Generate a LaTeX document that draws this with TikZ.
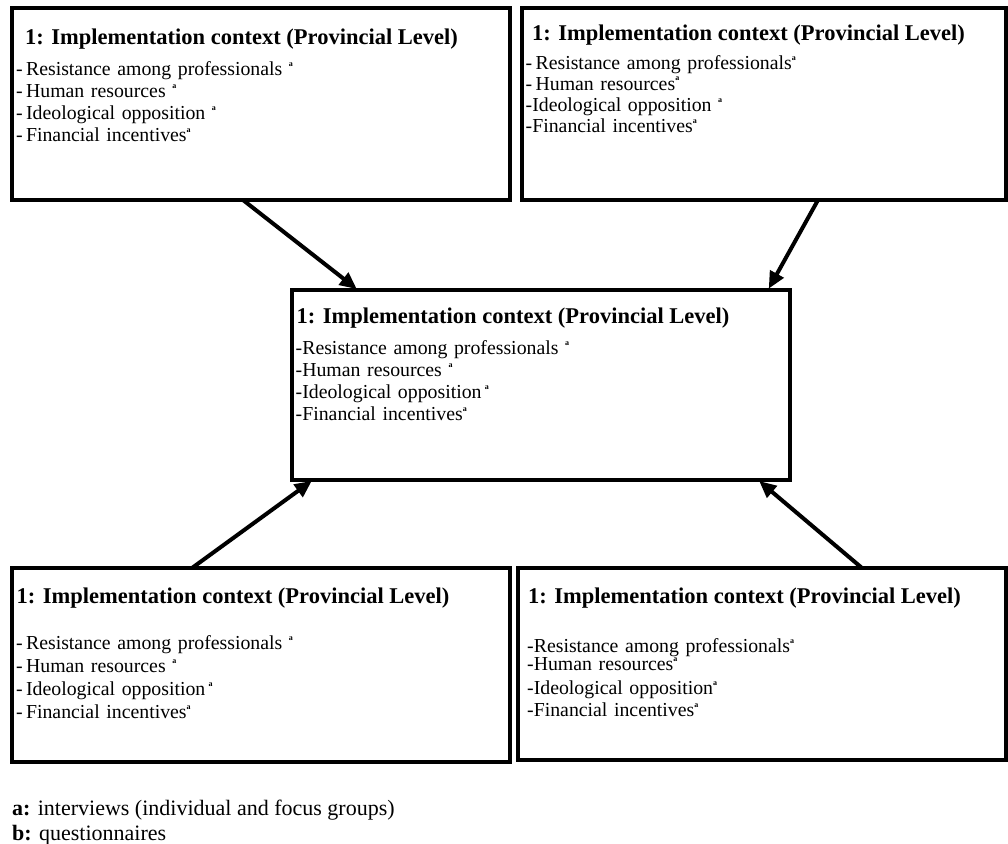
\documentclass[tikz,border=0pt]{standalone}
\usepackage{fontspec}
\setmainfont{Liberation Serif}
\usetikzlibrary{arrows.meta,calc,positioning}
\newcommand{\srcmark}{\raisebox{9pt}{\fontsize{8}{8}\selectfont\bfseries a}}
\tikzset{
context/.style={x=1pt,y=-1pt,>={Triangle[length=17pt,width=15pt]}},
panel/.style={draw,line width=4.5pt,anchor=north west,inner sep=0pt,
    outer sep=0pt,minimum width=498pt,minimum height=192pt},
head/.style={anchor=base west,inner sep=0pt,
    font=\fontsize{22.5}{27}\selectfont\bfseries},
items/.style={anchor=base west,inner sep=0pt,text width=470pt,align=left,
    font=\fontsize{19.8}{22}\selectfont},
note/.style={anchor=base west,inner sep=0pt,font=\fontsize{22}{26}\selectfont},
link/.style={->,line width=4pt,shorten >=1.5pt},
}
\begin{document}
\begin{tikzpicture}[context]
    \useasboundingbox (0,0) rectangle (1008,843);

    % the five context boxes
    \node[panel] (1) at (12,8) {};
    \node[panel,minimum width=484pt] (2) at (522,8) {};
    \node[panel,minimum height=190pt] (3) at (292,290) {};
    \node[panel,minimum height=194pt] (4) at (12,568) {};
    \node[panel,minimum width=488pt] (5) at (518,568) {};

    \node[head] (1t) at ($(1.north west)+(13,37)$) {1: Implementation context (Provincial Level)};
    \node[items] (1i) at ($(1.north west)+(4,67)$) {-\,Resistance among professionals\ \srcmark\\
        -\,Human resources\ \srcmark\\
        -\,Ideological opposition\ \srcmark\\
        -\,Financial incentives\srcmark};

    \node[head] (2t) at ($(2.north west)+(10,33)$) {1: Implementation context (Provincial Level)};
    \node[items,font=\fontsize{19.8}{21}\selectfont] (2i) at ($(2.north west)+(3.5,61)$) {-\,Resistance among professionals\srcmark\\
        -\,Human resources\srcmark\\
        -Ideological opposition\ \srcmark\\
        -Financial incentives\srcmark};

    \node[head] (3t) at ($(3.north west)+(4.5,33)$) {1: Implementation context (Provincial Level)};
    \node[items] (3i) at ($(3.north west)+(3.5,64)$) {-Resistance among professionals\ \srcmark\\
        -Human resources\ \srcmark\\
        -Ideological opposition\,\srcmark\\
        -Financial incentives\srcmark};

    \node[head] (4t) at ($(4.north west)+(4.5,35)$) {1: Implementation context (Provincial Level)};
    \node[items,font=\fontsize{19.8}{23.3}\selectfont] (4i) at ($(4.north west)+(4,81)$) {-\,Resistance among professionals\ \srcmark\\
        -\,Human resources\ \srcmark\\
        -\,Ideological opposition\,\srcmark\\
        -\,Financial incentives\srcmark};

    \node[head] (5t) at ($(5.north west)+(10,35)$) {1: Implementation context (Provincial Level)};
    \node[items] (5i) at ($(5.north west)+(9,84)$) {-Resistance among professionals\srcmark\\[-4pt]
        -Human resources\srcmark\\[2pt]
        -Ideological opposition\srcmark\\
        -Financial incentives\srcmark};

    % legend
    \node[note] (a) at (12,815) {\textbf{a:} interviews (individual and focus groups)};
    \node[note] (b) at (12,840) {\textbf{b:} questionnaires};

    \path[link]
        ($(1.south west)+(231,0)$) edge ($(3.north west)+(66,0)$)
        ($(2.south west)+(296,0)$) edge ($(3.north west)+(476,0)$)
        ($(4.north west)+(180,0)$) edge ($(3.south west)+(21,0)$)
        ($(5.north west)+(344,0)$) edge ($(3.south west)+(466,0)$)
    ;
\end{tikzpicture}
\end{document}
